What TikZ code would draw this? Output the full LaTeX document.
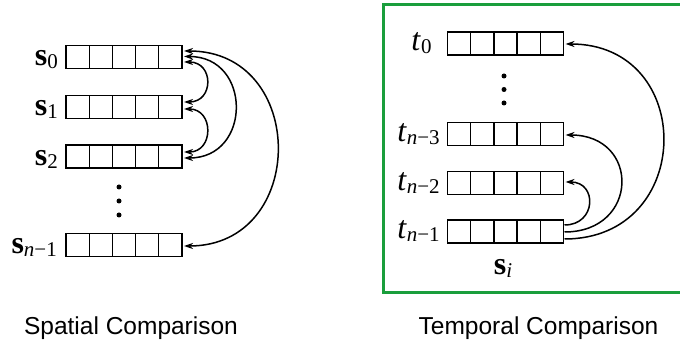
\documentclass[tikz,border=0pt]{standalone}
\usepackage{fontspec}
\setmainfont{Liberation Serif}
\setsansfont{Liberation Sans}
\usetikzlibrary{calc,arrows.meta}
\definecolor{framegreen}{RGB}{26,158,60}
\newcommand\lowsub[1]{\raisebox{-3pt}{\fontsize{21}{21}\selectfont #1}}
\newcommand\vs[1]{\textbf{s}\lowsub{#1}}
\newcommand\vt[1]{\textit{t}\lowsub{#1}}
\tikzset{
  cellrow/.style={draw, line width=1.3pt, minimum width=116pt, minimum height=23pt,
    inner sep=0pt, outer sep=0pt,
    path picture={\foreach \i in {1,...,4}{
      \draw[line width=1.3pt]
        ($(path picture bounding box.south west)!\i/5!(path picture bounding box.south east)$) --
        ($(path picture bounding box.north west)!\i/5!(path picture bounding box.north east)$);}}},
  lab/.style={inner sep=0pt, font=\fontsize{32}{36}\selectfont},
  tip/.tip={Stealth[length=9pt,width=6pt]},
  cmp/.style={line width=1.5pt, -tip},
  dcmp/.style={line width=1.5pt, tip-tip},
  caption/.style={font=\sffamily\fontsize{24.5}{28}\selectfont, inner sep=0pt, anchor=base},
  vdot/.style={circle, fill, inner sep=0pt, minimum size=5pt}
}
\begin{document}
\begin{tikzpicture}[x=1pt,y=-1pt]
\useasboundingbox (0,0) rectangle (680,344);
% left panel
\node[cellrow] (s0) at (124,57) {};
\node[cellrow] (s1) at (124,107) {};
\node[cellrow] (s2) at (124,156.5) {};
\node[cellrow] (sn1) at (124,245) {};
\node[lab, anchor=base east] (ls0) at ($(s0.west)+(-8,9)$) {\vs{0}};
\node[lab, anchor=base east] (ls1) at ($(s1.west)+(-8,9)$) {\vs{1}};
\node[lab, anchor=base east] (ls2) at ($(s2.west)+(-8,9)$) {\vs{2}};
\node[lab, anchor=base east] (lsn1) at ($(sn1.west)+(-9,9)$) {\vs{\textit{n}−1}};
\node[vdot] (ld1) at (119,187) {};
\node[vdot] (ld2) at (119,201) {};
\node[vdot] (ld3) at (119,215) {};
\draw[dcmp] ($(s0.east)+(2,5)$) .. controls +(30,0) and +(30,0) .. ($(s1.east)+(2,-5)$);
\draw[dcmp] ($(s1.east)+(2,2)$) .. controls +(30,0) and +(30,0) .. ($(s2.east)+(2,-4.5)$);
\draw[dcmp] ($(s0.east)+(2,-0.5)$) .. controls +(68,0) and +(68,0) .. ($(s2.east)+(2,1.5)$);
\draw[dcmp] ($(s0.east)+(2,-6)$) .. controls +(124,0) and +(124,0) .. ($(sn1.east)+(2,1)$);
% right panel
\draw[framegreen, line width=3pt] (682,5) -- (383,5) -- (383,293) -- (682,293);
\node[cellrow] (t0) at (505.5,43.5) {};
\node[cellrow] (tn3) at (505.5,134) {};
\node[cellrow] (tn2) at (505.5,183) {};
\node[cellrow] (tn1) at (505.5,231.5) {};
\node[lab, anchor=base] (lt0) at ($(t0.center)+(-84,7.5)$) {\vt{0}};
\node[lab, anchor=base] (ltn3) at ($(tn3.center)+(-87,7.5)$) {\vt{\textit{n}−3}};
\node[lab, anchor=base] (ltn2) at ($(tn2.center)+(-87,7.5)$) {\vt{\textit{n}−2}};
\node[lab, anchor=base] (ltn1) at ($(tn1.center)+(-87,7.5)$) {\vt{\textit{n}−1}};
\node[lab, anchor=base] (lsi) at (503,275) {\vs{\textit{i}}};
\node[vdot] (rd1) at (504,76) {};
\node[vdot] (rd2) at (504,89.5) {};
\node[vdot] (rd3) at (504,103) {};
\draw[cmp] ($(tn1.east)+(1,-6.5)$) .. controls +(32,0) and +(32,0) .. ($(tn2.east)+(2,-1)$);
\draw[cmp] ($(tn1.east)+(1,0.5)$) .. controls +(75,0) and +(75,0) .. ($(tn3.east)+(2,1)$);
\draw[cmp] ($(tn1.east)+(1,7.5)$) .. controls +(131,0) and +(131,0) .. ($(t0.east)+(2,0.5)$);
% captions
\node[caption] (capL) at (131,335) {Spatial Comparison};
\node[caption] (capR) at (538.5,335) {Temporal Comparison};
\end{tikzpicture}
\end{document}
